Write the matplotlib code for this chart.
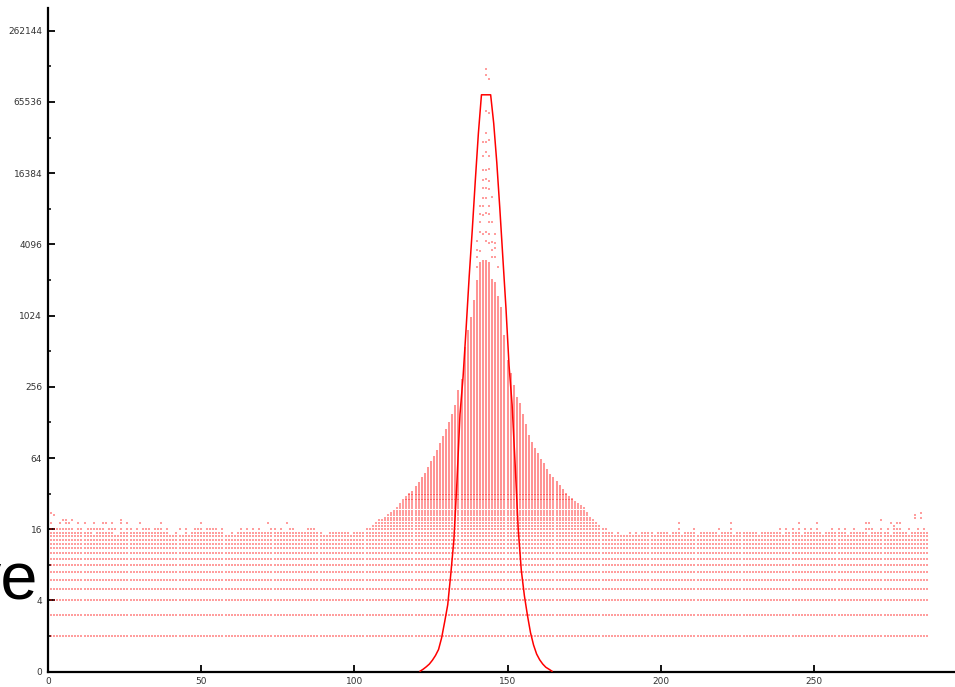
import matplotlib
matplotlib.use("Agg")
import matplotlib.pyplot as plt
import numpy as np


# axis ticks
x_ticks = [0, 50, 100, 150, 200, 250]
y_ticks = [1, 4, 16, 64, 256, 1024, 4096, 16384, 65536, 262144]
y_tick_labels = ["0", "4", "16", "64", "256", "1024", "4096", "16384", "65536", "262144"]
y_minor_ticks = [2, 8, 32, 128, 512, 2048, 8192, 32768, 131072]

# scatter: every column 0..287 has dots at each count 2..base_top
n_columns = 288
base_top = 14
row15_gaps = [15, 22, 23, 40, 41, 43, 44, 46, 58, 59, 61, 90, 91, 99,
              185, 187, 188, 189, 191, 193, 198, 203, 207, 212, 219, 224,
              232, 240, 246, 253, 261, 268, 275, 281]
row16_x = [1, 2, 3, 4, 5, 6, 7, 8, 10, 11, 13, 14, 15, 16, 17, 18, 20, 21, 22,
           24, 26, 27, 29, 31, 32, 33, 35, 36, 37, 39, 43, 45, 48, 49, 50, 52,
           53, 54, 55, 57, 63, 65, 67, 69, 73, 74, 76, 79, 80, 85, 86, 87,
           206, 211, 219, 223, 239, 241, 243, 245, 247, 249, 251, 256, 258,
           260, 263, 267, 268, 269, 272, 274, 276, 277, 278, 281, 284, 286]
extra_x = [1, 2, 5, 6, 8, 24, 1, 4, 6, 7, 10, 12, 15, 18, 19, 21, 24, 26, 30,
           37, 50, 72, 78, 206, 223, 245, 251, 267, 268, 272, 275, 276, 277,
           278, 283, 285, 285, 283]
extra_y = [22, 21, 19, 19, 19, 19, 18, 18, 18, 18, 18, 18, 18, 18, 18, 18, 18,
           18, 18, 18, 18, 18, 18, 18, 18, 18, 18, 18, 18, 19, 18, 17, 18,
           18, 20, 22, 20, 21]

# dense column tops inside the central triangle, x = 104..182
tri_start = 104
tri_top = [16, 16, 17, 18, 19, 19, 20, 21, 22, 23, 24, 26, 28, 30, 32, 34, 37,
           40, 44, 48, 54, 60, 66, 75, 86, 98, 112, 128, 150, 180, 240, 300,
           560, 770, 1000, 1390, 2050, 2900, 3000, 3000, 2900, 2100, 1950,
           1500, 1200, 700, 430, 335, 265, 210, 185, 150, 125, 100, 88, 78,
           70, 63, 58, 52, 47, 44, 41, 38, 35, 32, 30, 29, 27, 26, 25, 24, 22,
           20, 19, 18, 17, 16, 16]

# sparse dots above the dense tops around the peak
peak_x = [143, 143, 144, 143, 144, 143, 142, 143, 144, 143, 142, 144, 144,
          143, 142, 143, 142, 144, 142, 143, 144, 142, 143, 145, 141, 142,
          144, 141, 142, 143, 144, 141, 144, 145, 141, 142, 143, 144, 146,
          140, 143, 144, 145, 146, 140, 141, 145, 146, 140, 145, 146, 140, 147]
peak_y = [125000, 111000, 101700, 55400, 52900, 35700, 30300, 30300, 31400,
          24500, 23000, 23000, 17800, 17500, 17500, 14600, 14400, 14000,
          12200, 12200, 12000, 10100, 10100, 10400, 8700, 8700, 8700, 7400,
          7300, 7600, 7400, 6300, 6300, 6300, 5200, 5000, 5200, 5000, 5000,
          4400, 4400, 4200, 4300, 4200, 3700, 3600, 3700, 3800, 3200, 3200,
          3200, 2650, 2650]

# red curve
curve_x = [121.5, 122.5, 123.5, 124.5, 125.5, 126.5, 127.5, 128.5, 129.5,
           130.5, 131.5, 132.5, 133.5, 134.5, 135.5, 136.5, 137.5, 138.5,
           139.5, 140.5, 141.5, 142.5, 143.5, 144.5, 145.5, 146.5, 147.5,
           148.5, 149.5, 150.5, 151.5, 152.5, 153.5, 154.5, 155.5, 156.5,
           157.5, 158.5, 159.5, 160.5, 161.5, 162.5, 163.5, 164.5]
curve_y = [1.01, 1.05, 1.10, 1.16, 1.25, 1.37, 1.54, 1.93, 2.64, 3.68, 6.7,
           13, 40, 150, 310, 800, 2195, 5400, 14260, 35600, 75300, 75300,
           75300, 75300, 43200, 20200, 8190, 3100, 1180, 388, 181, 56, 16,
           7.2, 4.4, 3.0, 2.14, 1.68, 1.41, 1.26, 1.16, 1.09, 1.05, 1.01]

DOT_LIMIT = 32


def column_tops():
    tops = {x: base_top for x in range(n_columns)}
    for x in range(n_columns):
        if x not in row15_gaps:
            tops[x] = 15
    for i, top in enumerate(tri_top):
        tops[tri_start + i] = max(tops[tri_start + i], top)
    return tops


def build_dots(tops):
    xs, ys = [], []
    for x, top in tops.items():
        for v in range(2, min(top, DOT_LIMIT) + 1):
            xs.append(x)
            ys.append(v)
    for x in row16_x:
        if tops[x] < 16:
            xs.append(x)
            ys.append(16)
    xs += extra_x
    ys += extra_y
    xs += peak_x
    ys += peak_y
    return np.array(xs), np.array(ys)


def main():
    fig = plt.figure(figsize=(9.55, 6.87), dpi=100)
    ax = fig.add_axes([0.05, 0.0223, 0.95, 0.9657])

    tops = column_tops()
    xs, ys = build_dots(tops)
    dot_color = (1.0, 0.0, 0.0, 0.38)
    ax.scatter(xs, ys, s=1.2, marker="s", color=dot_color, linewidths=0, zorder=2)

    tall = [(x, t) for x, t in tops.items() if t > DOT_LIMIT]
    ax.vlines([x for x, _ in tall], DOT_LIMIT + 0.6, [t for _, t in tall],
              color=(1.0, 0.0, 0.0, 0.5), linewidth=1.2, zorder=2)

    ax.plot(curve_x, curve_y, color="#ff0000", linewidth=1.1, zorder=3)

    ax.set_yscale("log", base=2)
    ax.set_xlim(0, 296)
    ax.set_ylim(1, 406000)

    ax.set_xticks(x_ticks)
    ax.set_xticklabels([str(t) for t in x_ticks])
    ax.set_yticks(y_ticks)
    ax.set_yticklabels(y_tick_labels)
    ax.set_yticks(y_minor_ticks, minor=True)
    ax.yaxis.set_minor_formatter(matplotlib.ticker.NullFormatter())
    ax.xaxis.set_minor_locator(matplotlib.ticker.NullLocator())

    ax.tick_params(axis="both", which="major", direction="in", length=5,
                   width=1.3, labelsize=6.5, labelcolor="#333333", pad=4)
    ax.tick_params(axis="y", which="minor", direction="in", length=2.2, width=1.1)

    for side in ("top", "right"):
        ax.spines[side].set_visible(False)
    for side in ("left", "bottom"):
        ax.spines[side].set_linewidth(1.6)

    fig.text(38 / 955, 1 - 599 / 687, "ve", fontsize=48,
             family="Liberation Sans", ha="right", va="baseline")

    fig.savefig("out.png", dpi=100)
    plt.close(fig)


if __name__ == "__main__":
    main()
